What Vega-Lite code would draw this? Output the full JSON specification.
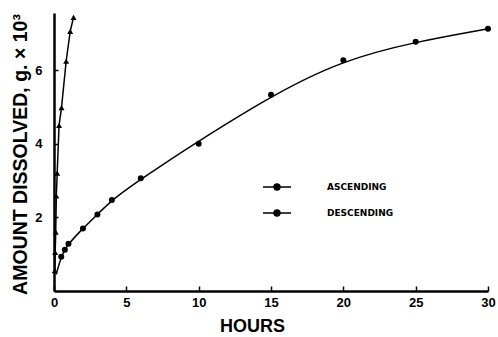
{
  "$schema": "https://vega.github.io/schema/vega-lite/v6.json",
  "autosize": "none",
  "padding": {"left": 54, "top": 13, "right": 10, "bottom": 46},
  "width": 434,
  "height": 278,
  "background": "white",
  "data": {
    "values": [
      {"series": "ASCENDING", "hours": 0.15, "amount": 0.45, "measured": false, "onCurve": true},
      {"series": "ASCENDING", "hours": 0.5, "amount": 0.93, "measured": true, "onCurve": true},
      {"series": "ASCENDING", "hours": 0.75, "amount": 1.12, "measured": true, "onCurve": true},
      {"series": "ASCENDING", "hours": 1, "amount": 1.28, "measured": true, "onCurve": true},
      {"series": "ASCENDING", "hours": 2, "amount": 1.7, "measured": true, "onCurve": true},
      {"series": "ASCENDING", "hours": 3, "amount": 2.08, "measured": true, "onCurve": true},
      {"series": "ASCENDING", "hours": 4, "amount": 2.47, "measured": true, "onCurve": true},
      {"series": "ASCENDING", "hours": 6, "amount": 3.06, "measured": true, "onCurve": true},
      {"series": "ASCENDING", "hours": 10, "amount": 4.0, "measured": true, "onCurve": false},
      {"series": "ASCENDING", "hours": 15, "amount": 5.33, "measured": true, "onCurve": true},
      {"series": "ASCENDING", "hours": 20, "amount": 6.27, "measured": true, "onCurve": true},
      {"series": "ASCENDING", "hours": 25, "amount": 6.77, "measured": true, "onCurve": true},
      {"series": "ASCENDING", "hours": 30, "amount": 7.12, "measured": true, "onCurve": true},
      {"series": "DESCENDING", "hours": 0.05, "amount": 0.55, "measured": true, "onCurve": true},
      {"series": "DESCENDING", "hours": 0.08, "amount": 1.05, "measured": true, "onCurve": true},
      {"series": "DESCENDING", "hours": 0.12, "amount": 1.6, "measured": true, "onCurve": true},
      {"series": "DESCENDING", "hours": 0.16, "amount": 2.58, "measured": true, "onCurve": true},
      {"series": "DESCENDING", "hours": 0.22, "amount": 3.2, "measured": true, "onCurve": true},
      {"series": "DESCENDING", "hours": 0.35, "amount": 4.5, "measured": true, "onCurve": true},
      {"series": "DESCENDING", "hours": 0.52, "amount": 4.98, "measured": true, "onCurve": true},
      {"series": "DESCENDING", "hours": 0.84, "amount": 6.24, "measured": true, "onCurve": true},
      {"series": "DESCENDING", "hours": 1.12, "amount": 7.05, "measured": true, "onCurve": true},
      {"series": "DESCENDING", "hours": 1.35, "amount": 7.43, "measured": true, "onCurve": true}
    ]
  },
  "encoding": {
    "x": {
      "field": "hours", "type": "quantitative",
      "scale": {"domain": [0, 30], "nice": false, "zero": false},
      "axis": {
        "title": "HOURS", "values": [0, 5, 10, 15, 20, 25, 30],
        "titleFont": "Liberation Sans", "titleFontSize": 18, "titleFontWeight": "bold",
        "titleColor": "black", "titleX": 198, "titleY": 35, "titleBaseline": "middle",
        "labelFont": "Liberation Sans", "labelFontSize": 13, "labelFontWeight": "bold",
        "labelColor": "black", "labelPadding": 10,
        "tickSize": -5, "tickWidth": 1.5, "tickColor": "black",
        "domainColor": "black", "domainWidth": 2.5, "grid": false, "labelFlush": false
      }
    },
    "y": {
      "field": "amount", "type": "quantitative",
      "scale": {"domain": [0, 7.55], "nice": false, "zero": false},
      "axis": {
        "title": "AMOUNT DISSOLVED, g. × 10³", "values": [2, 4, 6],
        "titleFont": "Liberation Sans", "titleFontSize": 19.5, "titleFontWeight": "bold",
        "titleColor": "black", "titleX": -34, "titleY": 141, "titleAngle": -90, "titleBaseline": "middle",
        "labelFont": "Liberation Sans", "labelFontSize": 13, "labelFontWeight": "bold",
        "labelColor": "black", "labelPadding": 16,
        "tickSize": -4, "tickWidth": 1.5, "tickColor": "black",
        "domainColor": "black", "domainWidth": 2.5, "grid": false
      }
    },
    "color": {
      "field": "series", "type": "nominal",
      "scale": {"range": ["black", "black"]},
      "legend": {
        "title": null, "orient": "none", "legendX": 215, "legendY": 166,
        "padding": 0, "rowPadding": 12, "labelOffset": 42,
        "symbolType": "M-2,0L2,0M-0.42,0A0.42,0.42,0,1,1,0.42,0A0.42,0.42,0,1,1,-0.42,0Z",
        "symbolSize": 196, "symbolStrokeWidth": 1.5,
        "labelFont": "DejaVu Sans", "labelFontSize": 9, "labelFontWeight": "bold", "labelColor": "black",
        "encode": {"symbols": {"update": {"fill": {"value": "black"}, "stroke": {"value": "black"}, "strokeWidth": {"value": 1.5}, "opacity": {"value": 1}}}}
      }
    }
  },
  "layer": [
    {
      "transform": [{"filter": "datum.series == 'ASCENDING' && datum.onCurve"}],
      "mark": {"type": "line", "interpolate": "basis", "strokeWidth": 1.5},
      "encoding": {"order": {"field": "hours", "type": "quantitative"}}
    },
    {
      "transform": [{"filter": "datum.series == 'DESCENDING'"}],
      "mark": {"type": "line", "interpolate": "linear", "strokeWidth": 1.5},
      "encoding": {"order": {"field": "hours", "type": "quantitative"}}
    },
    {
      "transform": [{"filter": "datum.measured"}],
      "mark": {"type": "point", "filled": true, "opacity": 1},
      "encoding": {
        "shape": {"field": "series", "type": "nominal", "scale": {"range": ["circle", "triangle-up"]}, "legend": null},
        "size": {"value": 36}
      }
    }
  ],
  "config": {"view": {"stroke": null}}
}
